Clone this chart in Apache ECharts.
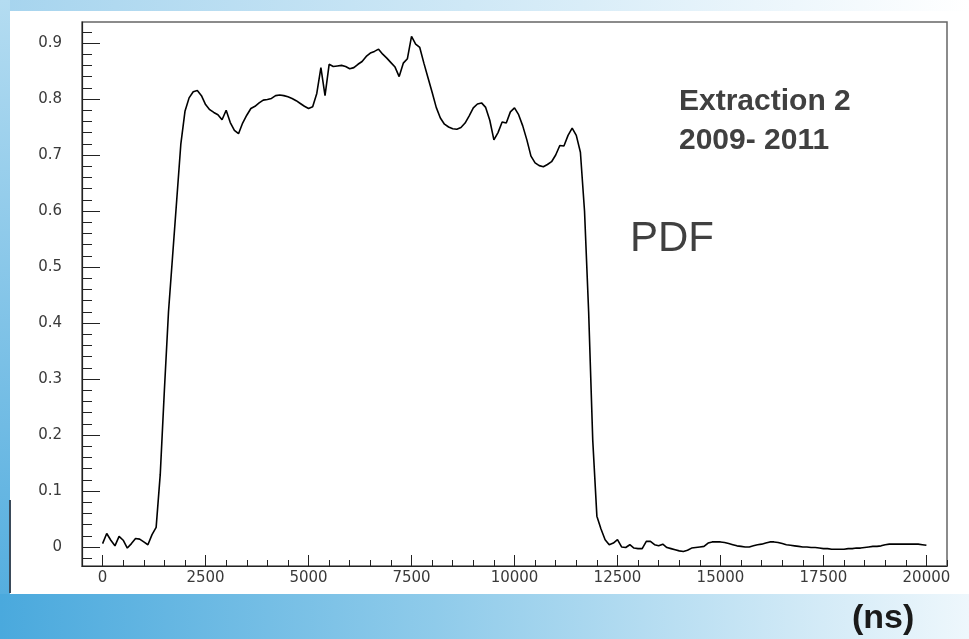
<!DOCTYPE html>
<html>
<head>
<meta charset="utf-8">
<script src="https://cdn.jsdelivr.net/npm/echarts@6/dist/echarts.min.js"></script>
<style>
html,body{margin:0;padding:0;background:#fff;}
#chart{width:969px;height:639px;}
</style>
</head>
<body>
<div id="chart"></div>
<script>
// ---- data ----
const timeNs = [
0,100,200,300,400,500,600,700,800,900,1000,1100,1200,1300,1400,1500,1600,1700,1800,1900,
2000,2100,2200,2300,2400,2500,2600,2700,2800,2900,3000,3100,3200,3300,3400,3500,3600,3700,3800,3900,
4000,4100,4200,4300,4400,4500,4600,4700,4800,4900,5000,5100,5200,5300,5400,5500,5600,5700,5800,5900,
6000,6100,6200,6300,6400,6500,6600,6700,6800,6900,7000,7100,7200,7300,7400,7500,7600,7700,7800,7900,
8000,8100,8200,8300,8400,8500,8600,8700,8800,8900,9000,9100,9200,9300,9400,9500,9600,9700,9800,9900,
10000,10100,10200,10300,10400,10500,10600,10700,10800,10900,11000,11100,11200,11300,11400,11500,11600,11700,11800,11900,
12000,12100,12200,12300,12400,12500,12600,12700,12800,12900,13000,13100,13200,13300,13400,13500,13600,13700,13800,13900,
14000,14100,14200,14300,14400,14500,14600,14700,14800,14900,15000,15100,15200,15300,15400,15500,15600,15700,15800,15900,
16000,16100,16200,16300,16400,16500,16600,16700,16800,16900,17000,17100,17200,17300,17400,17500,17600,17700,17800,17900,
18000,18100,18200,18300,18400,18500,18600,18700,18800,18900,19000,19100,19200,19300,19400,19500,19600,19700,19800,19900,
20000
];
const pdfValues = [
0.006,0.024,0.012,0.002,0.019,0.012,-0.002,0.006,0.015,0.014,0.009,0.004,0.022,0.035,0.13,0.28,0.42,0.52,0.62,0.72,
0.778,0.802,0.813,0.815,0.806,0.790,0.781,0.776,0.772,0.763,0.780,0.758,0.744,0.738,0.757,0.771,0.783,0.787,0.793,0.798,
0.799,0.801,0.806,0.807,0.806,0.804,0.801,0.797,0.792,0.787,0.783,0.786,0.810,0.856,0.806,0.862,0.858,0.859,0.860,0.858,
0.854,0.856,0.862,0.867,0.876,0.882,0.885,0.889,0.880,0.873,0.865,0.857,0.840,0.864,0.872,0.912,0.898,0.892,0.864,0.838,
0.812,0.785,0.766,0.755,0.750,0.747,0.746,0.749,0.757,0.770,0.784,0.791,0.793,0.785,0.762,0.727,0.740,0.759,0.757,0.777,
0.784,0.772,0.752,0.727,0.698,0.686,0.681,0.679,0.683,0.688,0.700,0.717,0.716,0.735,0.748,0.735,0.705,0.600,0.420,0.190,
0.055,0.032,0.013,0.004,0.007,0.013,0.000,-0.001,0.004,-0.002,-0.003,-0.003,0.010,0.010,0.004,0.002,0.005,-0.001,-0.003,-0.005,
-0.007,-0.008,-0.006,-0.002,-0.001,0.000,0.001,0.007,0.009,0.009,0.009,0.008,0.006,0.004,0.002,0.001,0.000,0.000,0.002,0.004,
0.005,0.007,0.009,0.009,0.008,0.006,0.004,0.003,0.002,0.001,0.000,0.000,-0.001,-0.001,-0.002,-0.003,-0.003,-0.004,-0.004,-0.004,
-0.004,-0.003,-0.003,-0.002,-0.002,-0.001,0.000,0.001,0.001,0.002,0.004,0.005,0.005,0.005,0.005,0.005,0.005,0.005,0.005,0.004,
0.003
];
const xTickLabels = ['0','2500','5000','7500','10000','12500','15000','17500','20000'];
const yTickLabels = ['0','0.1','0.2','0.3','0.4','0.5','0.6','0.7','0.8','0.9'];
const titleLines = ['Extraction 2', '2009- 2011'];
const curveLabel = 'PDF';
const unitLabel = '(ns)';

// ---- layout ----
const plotL = 82, plotR = 947, plotT = 22, plotB = 566;
const xMin = -500, xMax = 20500, yMin = -0.034, yMax = 0.9375;
const px = v => plotL + (v - xMin) / (xMax - xMin) * (plotR - plotL);
const py = v => plotB - (v - yMin) / (yMax - yMin) * (plotB - plotT);

const tickColor = '#222';
const labelFont = {color: '#3a3a3a', fontSize: 15, fontFamily: 'DejaVu Sans'};

const seriesData = timeNs.map((t, i) => [t, pdfValues[i]]);

const chart = echarts.init(document.getElementById('chart'), null, {renderer: 'canvas'});
chart.setOption({
  animation: false,
  backgroundColor: '#ffffff',
  graphic: [
    {type: 'rect', z: -100, shape: {x: 0, y: 0, width: 969, height: 11},
     style: {fill: new echarts.graphic.LinearGradient(0, 0, 1, 0, [
       {offset: 0, color: '#a6d4ee'}, {offset: 0.6, color: '#d9edf8'}, {offset: 1, color: '#ffffff'}])}},
    {type: 'rect', z: -100, shape: {x: 0, y: 0, width: 10, height: 595},
     style: {fill: new echarts.graphic.LinearGradient(0, 0, 0, 1, [
       {offset: 0, color: '#b4dcf1'}, {offset: 1, color: '#55aedf'}])}},
    {type: 'rect', z: -100, shape: {x: 0, y: 594, width: 969, height: 45},
     style: {fill: new echarts.graphic.LinearGradient(0, 0, 1, 0, [
       {offset: 0, color: '#4aa9dd'}, {offset: 0.45, color: '#8fcbea'}, {offset: 1, color: '#eef7fc'}])}},
    {type: 'line', z: -90, shape: {x1: 10, y1: 500, x2: 10, y2: 593},
     style: {stroke: '#3a4a5a', lineWidth: 2}},
    {type: 'text', z: 10, style: {text: titleLines[0], x: 679, y: 101.5,
      font: 'bold 30px "Liberation Sans", Arial, sans-serif', fill: '#404040', verticalAlign: 'middle'}},
    {type: 'text', z: 10, style: {text: titleLines[1], x: 679, y: 140.5,
      font: 'bold 30px "Liberation Sans", Arial, sans-serif', fill: '#404040', verticalAlign: 'middle'}},
    {type: 'text', z: 10, style: {text: curveLabel, x: 630, y: 239,
      font: '42px "Liberation Sans", Arial, sans-serif', fill: '#404040', verticalAlign: 'middle'}},
    {type: 'text', z: 10, style: {text: unitLabel, x: 852, y: 619,
      font: 'bold 34px "Liberation Sans", Arial, sans-serif', fill: '#1a1a1a', verticalAlign: 'middle'}}
  ],
  grid: [
    {left: plotL, top: plotT, width: plotR - plotL, height: plotB - plotT, show: true,
     borderColor: '#666', borderWidth: 1.5, backgroundColor: 'transparent'},
    {left: px(0), top: plotT, width: px(20000) - px(0), height: plotB - plotT},
    {left: plotL, top: py(0.9), width: plotR - plotL, height: py(0) - py(0.9)},
    {left: plotL, top: py(0.92), width: plotR - plotL, height: py(-0.02) - py(0.92)}
  ],
  xAxis: [
    {gridIndex: 0, type: 'value', min: xMin, max: xMax, interval: 500,
     axisLine: {show: true, onZero: false, lineStyle: {color: tickColor, width: 1.2}},
     axisTick: {show: true, inside: true, length: 6, lineStyle: {color: tickColor, width: 1}},
     axisLabel: {show: false}, splitLine: {show: false}},
    {gridIndex: 1, type: 'value', min: 0, max: 20000, interval: 2500,
     axisLine: {show: false},
     axisTick: {show: true, inside: true, length: 11, lineStyle: {color: tickColor, width: 1}},
     axisLabel: Object.assign({show: true, margin: 5, formatter: (v, i) => xTickLabels[i]}, labelFont),
     splitLine: {show: false}},
    {gridIndex: 2, type: 'value', show: false},
    {gridIndex: 3, type: 'value', show: false}
  ],
  yAxis: [
    {gridIndex: 0, type: 'value', min: yMin, max: yMax,
     axisLine: {show: true, onZero: false, lineStyle: {color: tickColor, width: 1.2}},
     axisTick: {show: false}, axisLabel: {show: false}, splitLine: {show: false}},
    {gridIndex: 1, type: 'value', show: false},
    {gridIndex: 2, type: 'value', min: 0, max: 0.9, interval: 0.1,
     axisLine: {show: false},
     axisTick: {show: true, inside: true, length: 18, lineStyle: {color: tickColor, width: 1}},
     axisLabel: Object.assign({show: true, margin: 20, formatter: (v, i) => yTickLabels[i]}, labelFont),
     splitLine: {show: false}},
    {gridIndex: 3, type: 'value', min: -0.02, max: 0.92, interval: 0.02,
     axisLine: {show: false},
     axisTick: {show: true, inside: true, length: 10, lineStyle: {color: tickColor, width: 1}},
     axisLabel: {show: false}, splitLine: {show: false}}
  ],
  series: [{
    type: 'line', xAxisIndex: 0, yAxisIndex: 0, data: seriesData,
    symbol: 'none', showSymbol: false,
    lineStyle: {color: '#000', width: 1.6}, z: 5, clip: true
  }]
});
</script>
</body>
</html>
